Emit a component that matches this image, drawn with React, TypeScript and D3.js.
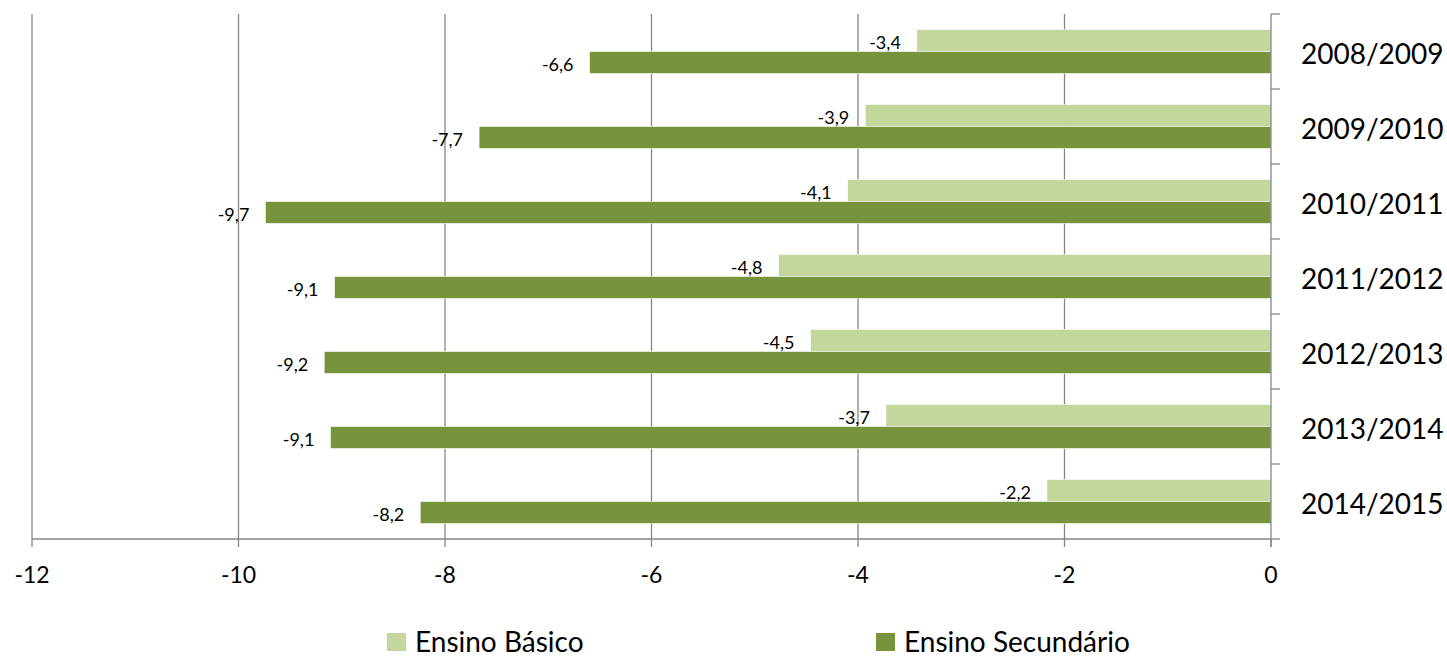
import React from "react";
import * as d3 from "d3";

const categories = ["2008/2009", "2009/2010", "2010/2011", "2011/2012", "2012/2013", "2013/2014", "2014/2015"];
const seriesNames = ["Ensino Básico", "Ensino Secundário"];
const basico = [-3.43, -3.93, -4.1, -4.77, -4.46, -3.73, -2.17];
const secundario = [-6.6, -7.67, -9.74, -9.07, -9.17, -9.11, -8.24];
const xTicks = [-12, -10, -8, -6, -4, -2, 0];
const colors = ["#C3D69B", "#77933C"];

const W = 1447;
const H = 658;
const FONT = "Lato, 'Open Sans', sans-serif";

export default function App() {
  const x = d3.scaleLinear().domain([-12, 0]).range([32, 1271]);
  const y0 = d3.scaleBand<string>().domain(categories).range([14, 539]).padding(0);
  const y1 = d3.scaleBand<string>().domain(seriesNames).range([15.5, 59.5]).padding(0);
  const series = [basico, secundario];
  const fmt = (v: number) => v.toFixed(1).replace(".", ",");
  const grid = "#868686";
  const boundaries = d3.range(categories.length + 1).map((i) => 14 + i * y0.step());

  return (
    <svg
      width={W}
      height={H}
      style={{ position: "absolute", left: 0, top: 0, background: "#fff" }}
      fontFamily={FONT}
    >
      {/* gridlines */}
      {xTicks.filter((t) => t !== 0).map((t) => (
        <line key={"g" + t} x1={x(t)} x2={x(t)} y1={14} y2={539} stroke={grid} strokeWidth={1.3} />
      ))}
      {/* bars */}
      {series.map((vals, si) =>
        vals.map((v, ci) => (
          <rect
            key={"b" + si + "-" + ci}
            x={x(v)}
            y={(y0(categories[ci]) as number) + (y1(seriesNames[si]) as number)}
            width={x(0) - x(v)}
            height={y1.bandwidth()}
            fill={colors[si]}
            stroke="#fff"
            strokeWidth={0.6}
          />
        ))
      )}
      {/* data labels */}
      {series.map((vals, si) =>
        vals.map((v, ci) => (
          <text
            key={"l" + si + "-" + ci}
            x={x(v) - 16}
            y={(y0(categories[ci]) as number) + (y1(seriesNames[si]) as number) + y1.bandwidth() / 2 + 1}
            textAnchor="end"
            dominantBaseline="central"
            fontSize={18}
            fill="#000"
          >
            {fmt(v)}
          </text>
        ))
      )}
      {/* bottom axis */}
      <line x1={x(-12)} x2={x(0)} y1={539} y2={539} stroke={grid} strokeWidth={1.3} />
      {xTicks.map((t) => (
        <g key={"t" + t}>
          <line x1={x(t)} x2={x(t)} y1={539} y2={547} stroke={grid} strokeWidth={1.3} />
          <text x={x(t)} y={574} textAnchor="middle" dominantBaseline="central" fontSize={23} fill="#000">
            {String(t)}
          </text>
        </g>
      ))}
      {/* right axis */}
      <line x1={x(0)} x2={x(0)} y1={14} y2={547} stroke={grid} strokeWidth={1.3} />
      {boundaries.map((b, i) => (
        <line key={"rt" + i} x1={x(0)} x2={x(0) + 9} y1={b} y2={b} stroke={grid} strokeWidth={1.3} />
      ))}
      {categories.map((c) => (
        <text
          key={"c" + c}
          x={1301}
          y={(y0(c) as number) + y0.bandwidth() / 2 + 1}
          dominantBaseline="central"
          fontSize={28}
          fill="#000"
        >
          {c}
        </text>
      ))}
      {/* legend */}
      {seriesNames.map((s, i) => {
        const lx = [387, 876][i];
        return (
          <g key={"lg" + s}>
            <rect x={lx} y={633} width={19} height={18} fill={colors[i]} />
            <text x={lx + 28} y={641} dominantBaseline="central" fontSize={28} fill="#000">
              {s}
            </text>
          </g>
        );
      })}
    </svg>
  );
}
